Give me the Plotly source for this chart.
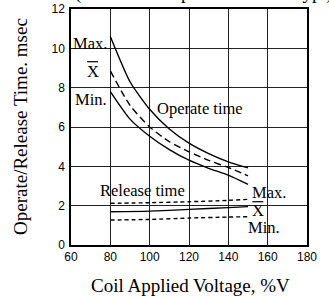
import plotly.graph_objects as go

voltage = [80, 90, 100, 110, 120, 130, 140, 150]
operate_max = [10.6, 8.3, 6.9, 5.9, 5.18, 4.65, 4.23, 3.92]
operate_mean = [8.85, 7.1, 6.0, 5.25, 4.74, 4.3, 3.94, 3.52]
operate_min = [7.8, 6.4, 5.53, 4.85, 4.31, 3.9, 3.55, 3.08]

rel_voltage = [80, 100, 120, 140, 150]
release_max = [2.12, 2.15, 2.2, 2.27, 2.32]
release_mean = [1.69, 1.72, 1.81, 1.9, 1.95]
release_min = [1.27, 1.3, 1.37, 1.42, 1.44]

x_ticks = [60, 80, 100, 120, 140, 160, 180]
y_ticks = [0, 2, 4, 6, 8, 10, 12]

serif = "Liberation Serif, Times New Roman, serif"
sans = "Liberation Sans, Arial, sans-serif"

W, H = 329, 298
PL, PT, PW, PH = 71, 9, 236, 236

fig = go.Figure()

def add(x, y, dash, width=1.4):
    fig.add_trace(go.Scatter(x=x, y=y, mode="lines",
                             line=dict(color="black", width=width, dash=dash, shape="spline", smoothing=0.6),
                             showlegend=False, hoverinfo="skip"))

add(voltage, operate_max, "solid")
add(voltage, operate_mean, "7px,4px")
add(voltage, operate_min, "solid")
add(rel_voltage, release_max, "4px,3px")
add(rel_voltage, release_mean, "solid")
add(rel_voltage, release_min, "4px,3px")

labels = [
    ("Max.", 79.4, 10.27, "right"),
    ("X", 71, 8.8, "center"),
    ("Min.", 79.4, 7.41, "right"),
    ("Operate time", 125.6, 6.95, "center"),
    ("Release time", 96.3, 2.79, "center"),
    ("Max.", 160.7, 2.66, "center"),
    ("X", 155, 1.73, "center"),
    ("Min.", 158, 0.91, "center"),
]
for text, x, y, anchor in labels:
    fig.add_annotation(x=x, y=y, xref="x", yref="y", text=text, showarrow=False,
                       xanchor=anchor, yanchor="middle",
                       font=dict(family=serif, size=16.5, color="black"))

# overlines for X-bar
for xc, yb in [(71, 9.32), (155, 2.2)]:
    fig.add_shape(type="line", xref="x", yref="y", x0=xc - 2.8, x1=xc + 2.8, y0=yb, y1=yb,
                  line=dict(color="black", width=1.2))

def px_x(px):
    return (px - PL) / PW

def px_y(py):
    return (PT + PH - py) / PH

# caption above the chart (cut off by the top edge in the reference)
fig.add_annotation(x=px_x(204), y=px_y(-7), xref="paper", yref="paper",
                   yanchor="middle", xanchor="center",
                   text="(Ambient temperature: 23°C typ.)", showarrow=False,
                   font=dict(family=serif, size=19, color="black"))

# axis titles
fig.add_annotation(x=px_x(20), y=px_y(127), xref="paper", yref="paper",
                   xanchor="center", yanchor="middle", textangle=-90,
                   text="Operate/Release Time. msec", showarrow=False,
                   font=dict(family=serif, size=19, color="black"))
fig.add_annotation(x=px_x(190), y=px_y(285), xref="paper", yref="paper",
                   xanchor="center", yanchor="middle",
                   text="Coil Applied Voltage, %V", showarrow=False,
                   font=dict(family=serif, size=19, color="black"))

fig.update_layout(
    width=W, height=H,
    margin=dict(l=PL, r=W - PL - PW, t=PT, b=H - PT - PH, autoexpand=False),
    paper_bgcolor="white", plot_bgcolor="white",
    xaxis=dict(range=[60, 180], tickvals=x_ticks, ticktext=[str(v) for v in x_ticks],
               showgrid=True, gridcolor="#222", gridwidth=1, zeroline=False,
               showline=True, linecolor="black", linewidth=1.5, mirror=True,
               ticks="", ticklabelstandoff=0, automargin=False, ticklabeloverflow="allow",
               tickfont=dict(family=sans, size=12, color="black")),
    yaxis=dict(range=[0, 12], tickvals=y_ticks, ticktext=[str(v) for v in y_ticks],
               showgrid=True, gridcolor="#222", gridwidth=1, zeroline=False,
               showline=True, linecolor="black", linewidth=1.5, mirror=True,
               ticks="", ticklabelstandoff=2, automargin=False, ticklabeloverflow="allow",
               tickfont=dict(family=sans, size=12, color="black")),
)

fig.write_html("out.html", config={"displayModeBar": False},
               post_script="document.body.style.margin='0';")
